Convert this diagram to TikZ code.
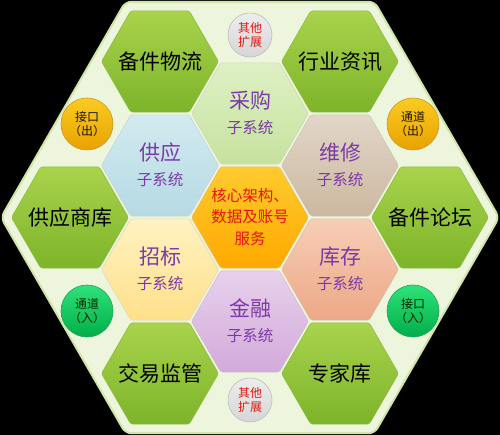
\documentclass[tikz,border=0pt]{standalone}
\usepackage{fontspec}
\setmainfont{Noto Sans CJK SC}
\usetikzlibrary{shapes.geometric}
\definecolor{bgpale}{HTML}{EDF6DC}
\definecolor{bgedge}{HTML}{CFE6A8}
\definecolor{gtop}{HTML}{A9D34C}
\definecolor{gbot}{HTML}{7DB42A}
\definecolor{gedge}{HTML}{8CBD3E}
\definecolor{ttlpurple}{HTML}{7B3AA8}
\definecolor{ctrred}{HTML}{E8140C}
\definecolor{cgA}{HTML}{DFF0C4}\definecolor{cgB}{HTML}{C6E29E}
\definecolor{gyA}{HTML}{D2EAF0}\definecolor{gyB}{HTML}{B6DAE4}
\definecolor{wxA}{HTML}{E2D6C8}\definecolor{wxB}{HTML}{CBB89F}
\definecolor{zbA}{HTML}{FFF2C2}\definecolor{zbB}{HTML}{FFE08A}
\definecolor{kcA}{HTML}{F7CDB6}\definecolor{kcB}{HTML}{ECA886}
\definecolor{jrA}{HTML}{E8D0EC}\definecolor{jrB}{HTML}{D2AADA}
\definecolor{coA}{HTML}{FFCB2E}\definecolor{coB}{HTML}{FFA900}
\definecolor{exA}{HTML}{EDEDED}\definecolor{exB}{HTML}{D6D6D6}
\definecolor{orA}{HTML}{FACB22}\definecolor{orB}{HTML}{E9A200}
\definecolor{grA}{HTML}{2EE27A}\definecolor{grB}{HTML}{00AE48}
\begin{document}
\begin{tikzpicture}[x=1pt,y=-1pt,
  hexbase/.style={regular polygon, regular polygon sides=6, minimum size=117pt,
    inner sep=0pt, rounded corners=2.5pt, line width=0.6pt},
  greenhex/.style={hexbase, top color=gtop, bottom color=gbot, draw=gedge},
  subhex/.style 2 args={hexbase, top color=#1, bottom color=#2, draw=#2!85!black!60},
  outerlbl/.style={font=\fontsize{21}{21}\selectfont, text=black, inner sep=0pt},
  ttl/.style={font=\fontsize{21}{21}\selectfont, text=ttlpurple, inner sep=0pt},
  sublbl/.style={font=\fontsize{15.5}{15.5}\selectfont, text=ttlpurple, inner sep=0pt},
  ctrlbl/.style={font=\fontsize{15.5}{21.5}\selectfont, text=ctrred, align=center, inner sep=0pt},
  disc/.style n args={3}{circle, minimum size=#1, inner sep=0pt, top color=#2, bottom color=#3, draw=#3!70!gray, line width=0.6pt},
  disclbl/.style={font=\fontsize{12}{14}\selectfont, align=center, inner sep=0pt}
]
\fill[black] (0,0) rectangle (500,435);
\useasboundingbox (0,0) rectangle (500,435);
% big background hexagon
\draw[fill=bgpale, draw=bgedge, line width=2pt, rounded corners=6pt]
  (499,217.5) -- (374.5,1.8) -- (125.5,1.8) -- (1,217.5) -- (125.5,433.2) -- (374.5,433.2) -- cycle;

% outer green hexagons
\node[greenhex] (beijian) at (160,61.5) {};
\node[greenhex] (hangye) at (340,61.5) {};
\node[greenhex] (gysk) at (70,217.5) {};
\node[greenhex] (luntan) at (430,217.5) {};
\node[greenhex] (jiaoyi) at (160,373.5) {};
\node[greenhex] (zhuanjia) at (340,373.5) {};

% inner sub-system hexagons
\node[subhex={cgA}{cgB}] (caigou) at (250,113.5) {};
\node[subhex={gyA}{gyB}] (gongying) at (160,165.5) {};
\node[subhex={wxA}{wxB}] (weixiu) at (340,165.5) {};
\node[subhex={zbA}{zbB}] (zhaobiao) at (160,269.5) {};
\node[subhex={kcA}{kcB}] (kucun) at (340,269.5) {};
\node[subhex={jrA}{jrB}] (jinrong) at (250,321.5) {};
\node[subhex={coA}{coB}] (core) at (250,217.5) {};

% labels outer
\node[outerlbl] (beijian-t) at (beijian.center) {备件物流};
\node[outerlbl] (hangye-t) at (hangye.center) {行业资讯};
\node[outerlbl] (gysk-t) at (gysk.center) {供应商库};
\node[outerlbl] (luntan-t) at (luntan.center) {备件论坛};
\node[outerlbl] (jiaoyi-t) at (jiaoyi.center) {交易监管};
\node[outerlbl] (zhuanjia-t) at (zhuanjia.center) {专家库};

% labels inner
\node[ttl] (caigou-t) at (250,100.5) {采购};
\node[sublbl] (caigou-s) at (250,128) {子系统};
\node[ttl] (gongying-t) at (160,152.5) {供应};
\node[sublbl] (gongying-s) at (160,180) {子系统};
\node[ttl] (weixiu-t) at (340,152.5) {维修};
\node[sublbl] (weixiu-s) at (340,180) {子系统};
\node[ttl] (zhaobiao-t) at (160,256.5) {招标};
\node[sublbl] (zhaobiao-s) at (160,284) {子系统};
\node[ttl] (kucun-t) at (340,256.5) {库存};
\node[sublbl] (kucun-s) at (340,284) {子系统};
\node[ttl] (jinrong-t) at (250,308.5) {金融};
\node[sublbl] (jinrong-s) at (250,336) {子系统};
\node[ctrlbl] (core-t) at (250,217) {核心架构、\\数据及账号\\服务};

% discs
\node[disc={44pt}{exA}{exB}] (ext1) at (250,35) {};
\node[disc={44pt}{exA}{exB}] (ext2) at (250,400) {};
\node[disc={52pt}{orA}{orB}] (jkout) at (87,124) {};
\node[disc={52pt}{orA}{orB}] (tdout) at (413,124) {};
\node[disc={52pt}{grA}{grB}] (tdin) at (87,311) {};
\node[disc={52pt}{grA}{grB}] (jkin) at (413,311) {};

\node[disclbl, text=ctrred] (ext1-t) at (ext1.center) {其他\\扩展};
\node[disclbl, text=ctrred] (ext2-t) at (ext2.center) {其他\\扩展};
\node[disclbl, text=black!85!brown] (jkout-t) at (jkout.center) {接口\\（出）};
\node[disclbl, text=black!85!brown] (tdout-t) at (tdout.center) {通道\\（出）};
\node[disclbl, text=black!85!green] (tdin-t) at (tdin.center) {通道\\（入）};
\node[disclbl, text=black!85!green] (jkin-t) at (jkin.center) {接口\\（入）};
\end{tikzpicture}
\end{document}
